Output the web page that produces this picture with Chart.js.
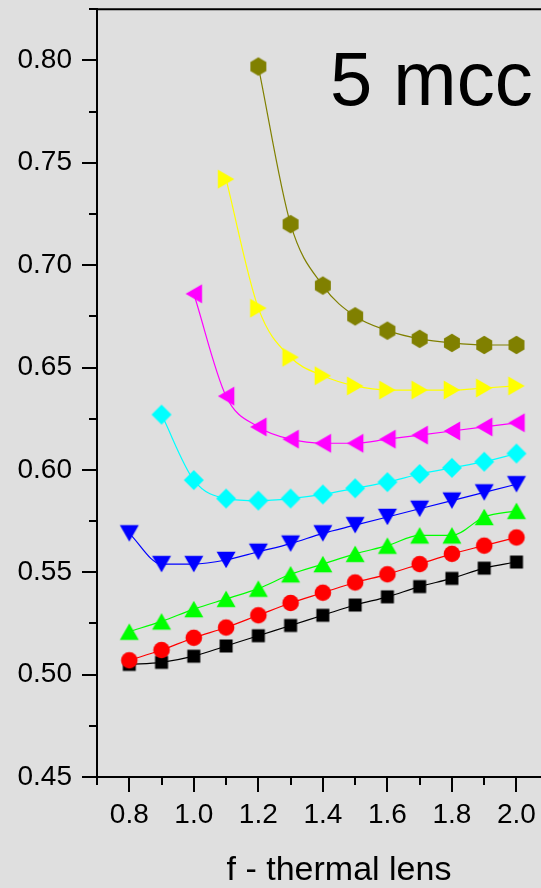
<!DOCTYPE html>
<html>
<head>
<meta charset="utf-8">
<title>5 mcc</title>
<script src="https://cdn.jsdelivr.net/npm/chart.js@4/dist/chart.umd.min.js"></script>
<style>
  html, body { margin: 0; padding: 0; overflow: hidden; background: #dfdfdf; }
  #wrap { width: 541px; height: 888px; overflow: hidden; position: relative; }
  canvas { display: block; }
</style>
</head>
<body>
<div id="wrap"><canvas id="chart" width="620" height="888"></canvas></div>
<script>
// f - thermal lens values (x)
const fValues = [0.8, 0.9, 1.0, 1.1, 1.2, 1.3, 1.4, 1.5, 1.6, 1.7, 1.8, 1.9, 2.0];

// one series per marker style; null where a curve has no point
const seriesSquare   = [0.505, 0.506, 0.509, 0.514, 0.519, 0.524, 0.529, 0.534, 0.538, 0.543, 0.547, 0.552, 0.555];
const seriesCircle   = [0.507, 0.512, 0.518, 0.523, 0.529, 0.535, 0.540, 0.545, 0.549, 0.554, 0.559, 0.563, 0.567];
const seriesTriUp    = [0.521, 0.526, 0.532, 0.537, 0.542, 0.549, 0.554, 0.559, 0.563, 0.568, 0.568, 0.577, 0.580];
const seriesTriDown  = [0.569, 0.554, 0.554, 0.556, 0.560, 0.564, 0.569, 0.573, 0.577, 0.581, 0.585, 0.589, 0.593];
const seriesDiamond  = [null, 0.627, 0.595, 0.586, 0.585, 0.586, 0.588, 0.591, 0.594, 0.598, 0.601, 0.604, 0.608];
const seriesTriLeft  = [null, null, 0.686, 0.636, 0.621, 0.615, 0.613, 0.613, 0.615, 0.617, 0.619, 0.621, 0.623];
const seriesTriRight = [null, null, null, 0.742, 0.679, 0.655, 0.646, 0.641, 0.639, 0.639, 0.639, 0.640, 0.641];
const seriesHexagon  = [null, null, null, null, 0.797, 0.720, 0.690, 0.675, 0.668, 0.664, 0.662, 0.661, 0.661];

// axis ticks
const xTickValues  = [0.8, 1.0, 1.2, 1.4, 1.6, 1.8, 2.0];
const xMinorValues = [0.7, 0.9, 1.1, 1.3, 1.5, 1.7, 1.9, 2.1];
const yTickValues  = [0.45, 0.50, 0.55, 0.60, 0.65, 0.70, 0.75, 0.80];
const yMinorValues = [0.475, 0.525, 0.575, 0.625, 0.675, 0.725, 0.775, 0.825];

const FONT = '"Liberation Sans", Arial, Helvetica, sans-serif';

// marker sprites, centred on their own bounding box
function marker(shape, color) {
  const c = document.createElement('canvas');
  c.width = 24; c.height = 24;
  const g = c.getContext('2d');
  g.fillStyle = color;
  g.beginPath();
  const m = 12, s = 19, h = 16.5;
  switch (shape) {
    case 'square': g.rect(m - 6.5, m - 6.5, 13, 13); break;
    case 'circle': g.arc(m, m, 8.3, 0, Math.PI * 2); break;
    case 'up':    g.moveTo(m, m - h / 2); g.lineTo(m + s / 2, m + h / 2); g.lineTo(m - s / 2, m + h / 2); break;
    case 'down':  g.moveTo(m, m + h / 2); g.lineTo(m + s / 2, m - h / 2); g.lineTo(m - s / 2, m - h / 2); break;
    case 'left':  g.moveTo(m - h / 2, m); g.lineTo(m + h / 2, m - s / 2); g.lineTo(m + h / 2, m + s / 2); break;
    case 'right': g.moveTo(m + h / 2, m); g.lineTo(m - h / 2, m - s / 2); g.lineTo(m - h / 2, m + s / 2); break;
    case 'diamond': g.moveTo(m, m - 10); g.lineTo(m + 10, m); g.lineTo(m, m + 10); g.lineTo(m - 10, m); break;
    case 'hexagon':
      for (let k = 0; k < 6; k++) {
        const a = -Math.PI / 2 + k * Math.PI / 3;
        const px = m + 9.2 * Math.cos(a), py = m + 9.2 * Math.sin(a);
        if (k === 0) g.moveTo(px, py); else g.lineTo(px, py);
      }
      break;
  }
  g.closePath();
  g.fill();
  return c;
}

function points(values) {
  const out = [];
  values.forEach((v, i) => { if (v !== null) out.push({ x: fValues[i], y: v }); });
  return out;
}

// first entry is drawn on top
const seriesDefs = [
  [seriesCircle,   '#ff0000', 'circle'],
  [seriesSquare,   '#000000', 'square'],
  [seriesTriUp,    '#00ff00', 'up'],
  [seriesTriDown,  '#0000ff', 'down'],
  [seriesDiamond,  '#00ffff', 'diamond'],
  [seriesTriLeft,  '#ff00ff', 'left'],
  [seriesTriRight, '#ffff00', 'right'],
  [seriesHexagon,  '#808000', 'hexagon']
];

const datasets = seriesDefs.map(([vals, color, shape]) => ({
  data: points(vals),
  borderColor: color,
  backgroundColor: color,
  borderWidth: 1.2,
  cubicInterpolationMode: 'monotone',
  pointStyle: marker(shape, color),
  pointRadius: 8,
  pointHoverRadius: 8
}));

// ticks (major and minor), frame and the panel caption
const decorations = {
  id: 'decorations',
  afterDraw(chart) {
    const { ctx, chartArea: a, scales: { x, y } } = chart;
    ctx.save();
    ctx.strokeStyle = '#000';
    ctx.lineWidth = 2;
    ctx.beginPath();
    yTickValues.forEach(v => { const p = Math.round(y.getPixelForValue(v)); ctx.moveTo(a.left - 15, p); ctx.lineTo(a.left, p); });
    yMinorValues.forEach(v => { const p = Math.round(y.getPixelForValue(v)); ctx.moveTo(a.left - 8, p); ctx.lineTo(a.left, p); });
    xTickValues.forEach(v => { const p = Math.round(x.getPixelForValue(v)); ctx.moveTo(p, a.bottom); ctx.lineTo(p, a.bottom + 15); });
    xMinorValues.forEach(v => { const p = Math.round(x.getPixelForValue(v)); ctx.moveTo(p, a.bottom); ctx.lineTo(p, a.bottom + 8); });
    // top and right frame
    ctx.moveTo(a.left - 1, a.top);
    ctx.lineTo(a.right, a.top);
    ctx.lineTo(a.right, a.bottom);
    ctx.stroke();

    ctx.fillStyle = '#000';
    ctx.font = '76px ' + FONT;
    ctx.textBaseline = 'alphabetic';
    ctx.textAlign = 'left';
    ctx.fillText('5 mcc', x.getPixelForValue(1.422), y.getPixelForValue(0.7784));
    ctx.restore();
  }
};

new Chart(document.getElementById('chart'), {
  type: 'line',
  data: { datasets },
  plugins: [decorations],
  options: {
    responsive: false,
    animation: false,
    devicePixelRatio: 1,
    layout: { padding: { top: 7, right: 39, bottom: 0, left: 0 } },
    plugins: { legend: { display: false }, tooltip: { enabled: false } },
    scales: {
      x: {
        type: 'linear',
        min: 0.7,
        max: 2.2,
        afterBuildTicks: s => { s.ticks = xTickValues.map(v => ({ value: v })); },
        afterFit: s => { s.height = 111; s.paddingLeft = 0; s.paddingRight = 0; },
        grid: { display: false, drawTicks: false, tickLength: 0 },
        border: { display: true, color: '#000', width: 2 },
        ticks: {
          color: '#000',
          padding: 21,
          maxRotation: 0,
          autoSkip: false,
          font: { family: FONT, size: 28 },
          callback: v => Number(v).toFixed(1)
        },
        title: {
          display: true,
          text: 'f - thermal lens',
          color: '#000',
          font: { family: FONT, size: 34, lineHeight: 1 },
          padding: 0
        }
      },
      y: {
        type: 'linear',
        min: 0.45,
        max: 0.825,
        afterBuildTicks: s => { s.ticks = yTickValues.map(v => ({ value: v })); },
        afterFit: s => { s.width = 97; s.paddingTop = 0; s.paddingBottom = 0; },
        grid: { display: false, drawTicks: false, tickLength: 0 },
        border: { display: true, color: '#000', width: 2 },
        ticks: {
          color: '#000',
          padding: 25,
          autoSkip: false,
          font: { family: FONT, size: 28 },
          callback: v => Number(v).toFixed(2)
        }
      }
    }
  }
});
</script>
</body>
</html>
